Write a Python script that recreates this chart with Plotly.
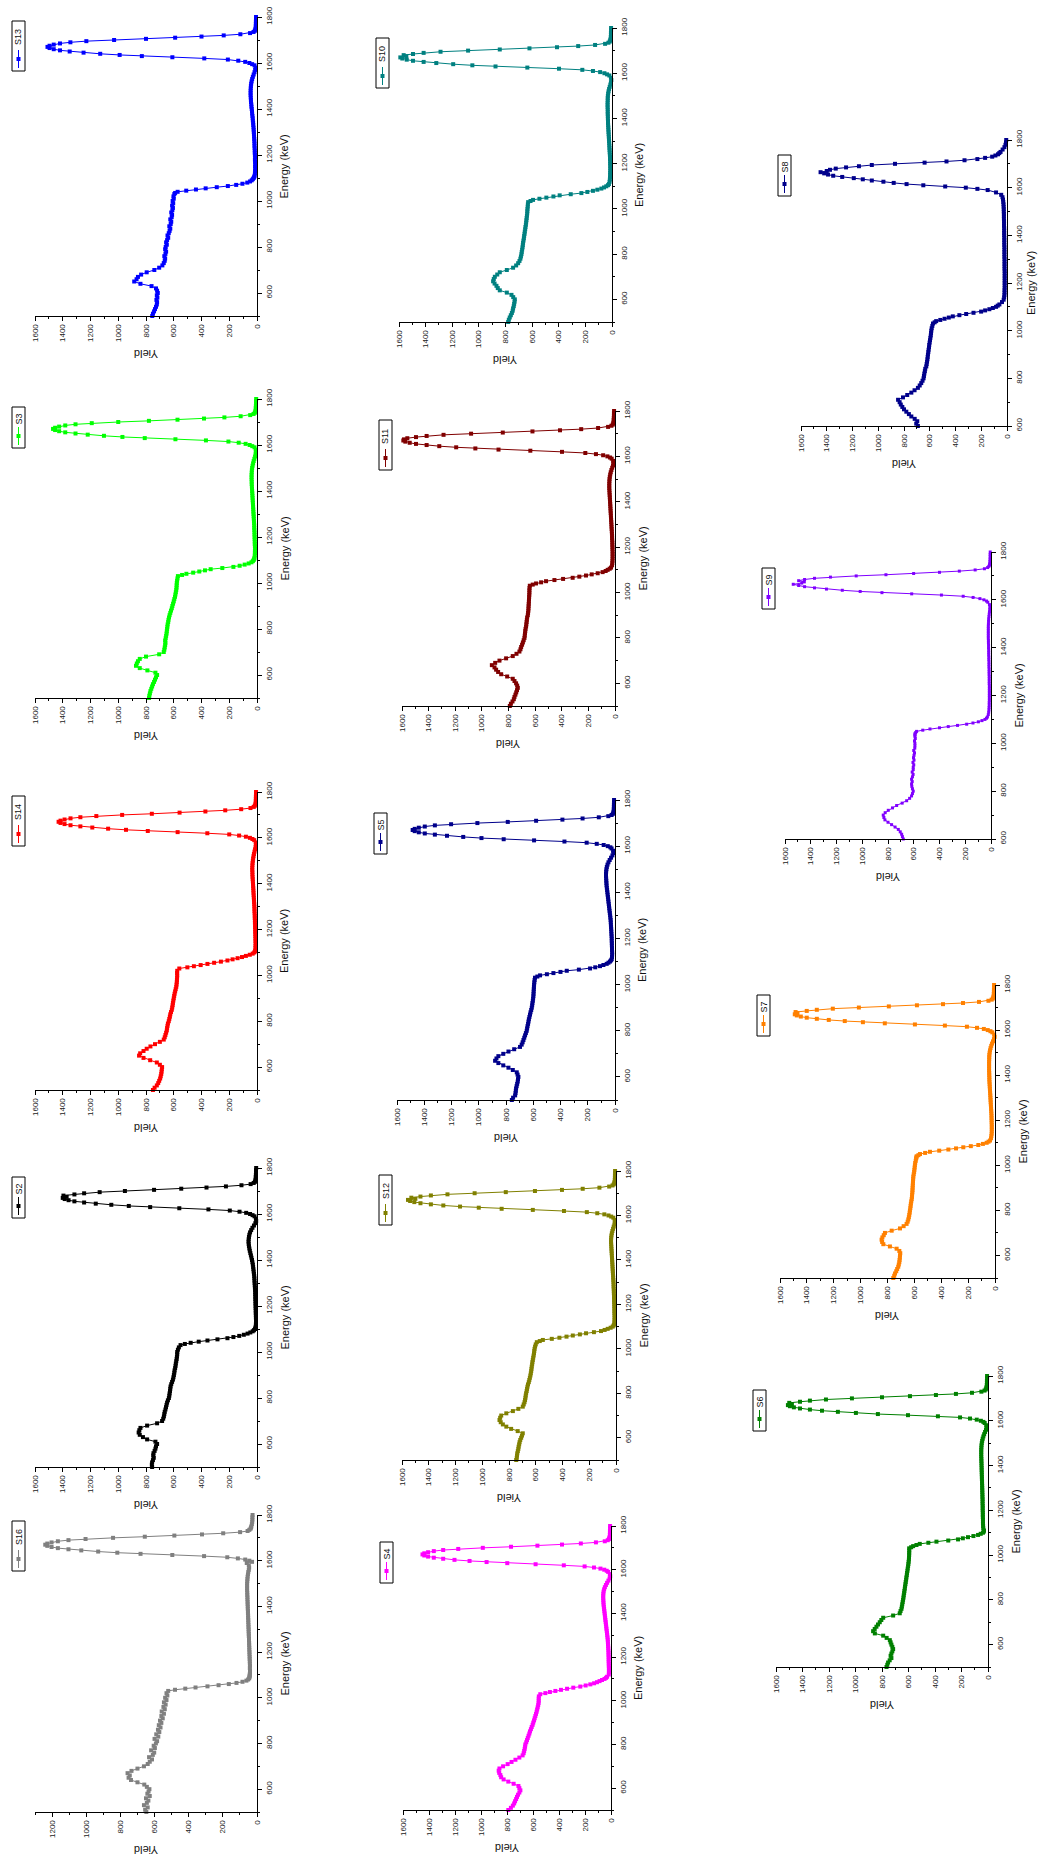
import plotly.graph_objects as go

W, H = 1040, 1860
FONT = "Liberation Sans, Arial, Helvetica, sans-serif"

# ---------------- energy grid (keV) ----------------
E_LO = [500, 510, 520, 530, 540, 550, 560, 570, 580, 590, 600, 610, 620, 630, 640, 650, 660, 670, 680, 690,
        700, 710, 720, 730, 740, 750, 760, 770, 780, 790, 800, 810, 820, 830, 840, 850, 860, 870, 880, 890,
        900, 910, 920, 930, 940, 950, 960, 970, 980, 990, 1000, 1010, 1020, 1030]
E_EDGE = [1035, 1040, 1045, 1050, 1055, 1060, 1065, 1070, 1075, 1080, 1085, 1090, 1095, 1100, 1105, 1110]
E_FLAT = [1120, 1130, 1140, 1150, 1160, 1170, 1180, 1190, 1200, 1210, 1220, 1230, 1240, 1250, 1260, 1270,
          1280, 1290, 1300, 1310, 1320, 1330, 1340, 1350, 1360, 1370, 1380, 1390, 1400, 1410, 1420, 1430,
          1440, 1450, 1460, 1470, 1480, 1490, 1500, 1510, 1520, 1530, 1540, 1550, 1560, 1570, 1580, 1590]
E_PEAK = [1595, 1600, 1605, 1610, 1615, 1620, 1625, 1630, 1635, 1640, 1645, 1650, 1655, 1660, 1665, 1670,
          1675, 1680, 1685, 1690, 1695, 1700, 1705, 1710, 1715, 1720, 1725, 1730, 1735, 1740, 1745, 1750]
E_TAIL = [1760, 1770, 1780, 1790, 1800]
energy = E_LO + E_EDGE + E_FLAT + E_PEAK + E_TAIL

# ---------------- yields ----------------
s13 = [755,750,742,735,728,722,720,725,718,722, 715,720,728,760,840,885,868,858,835,795,
       740,705,682,672,665,662,668,660,655,662, 658,650,655,648,640,645,636,630,625,632,
       622,618,625,615,612,618,610,606,612,604, 608,600,602,596,
       590,572,510,440,370,290,210,150,105,70,50,38,30,24,20,17,
       15,14,13,14,13,14,15,14,15,16, 16,17,18,18,19,20,21,22,23,24, 25,27,28,30,31,33,35,36,38,40,
       41,43,44,45,46,46,46,45,44,42, 39,35,30,24,18,13,11,18,
       35,55,85,135,210,380,610,830,990,1130, 1250,1350,1420,1465,1495,1510,1495,1465,1420,1345,
       1230,1030,800,590,400,240,120,50,25,16, 12,10,
       9,8,8,7,7]
s3 = [778,776,772,768,762,756,750,742,735,728, 720,732,790,845,872,866,858,845,800,705,
      672,668,665,662,660,662,658,655,652,650, 648,646,644,640,638,634,630,625,620,614,
      610,605,600,596,591,588,585,582,580,579, 578,576,573,570,
      540,509,460,416,375,334,250,170,125,89,60,40,30,24,20,18,
      16,15,15,14,15,16,16,17,17,18, 18,19,20,20,21,22,23,24,25,26, 27,28,29,30,31,32,33,34,35,36,
      37,38,38,39,39,39,38,37,35,32, 28,24,19,14,10,8,9,18,
      34,53,82,132,206,368,588,809,970,1103, 1220,1308,1382,1426,1455,1470,1455,1426,1382,1308,
      1191,1000,779,573,382,235,118,49,25,16, 12,10,
      9,8,7,7,6]
s14 = [750,738,722,712,705,698,694,690,688,686, 684,700,722,770,818,850,842,818,795,768,
       735,700,672,665,660,655,650,648,645,642, 636,632,628,625,620,614,611,608,606,603,
       600,597,594,590,586,582,580,578,577,576, 575,576,575,560,
       502,455,406,357,309,260,213,176,140,108,80,52,31,20,14,12,
       11,11,10,11,11,12,12,13,13,14, 14,15,15,16,16,17,18,18,19,20, 21,22,23,24,25,26,27,28,29,30,
       31,32,33,33,34,34,33,32,30,28, 25,22,18,14,10,8,9,20,
       33,51,80,129,200,358,572,787,944,1073, 1187,1273,1344,1387,1416,1430,1416,1387,1344,1273,
       1158,972,758,558,372,229,114,47,24,16, 11,10,
       9,8,8,7,7]
s2 = [756,758,756,750,744,748,746,738,732,728, 720,732,792,822,845,853,848,840,792,720,
      684,676,671,668,665,660,656,652,648,642, 635,632,630,627,625,623,618,612,606,602,
      599,596,594,590,587,585,582,579,577,575, 575,570,563,551,
      520,478,420,357,285,213,170,128,95,68,48,31,22,14,11,9,
      8,7,7,8,8,9,9,10,10,11, 11,12,12,13,13,14,15,16,17,18, 19,20,22,24,26,28,30,33,36,40,
      44,48,52,55,58,60,61,60,58,55, 50,42,33,22,12,6,8,18,
      32,50,78,126,196,350,560,770,924,1050, 1162,1246,1316,1358,1386,1400,1372,1395,1316,1246,
      1134,952,742,546,364,224,112,46,24,15, 11,10,
      9,8,7,7,6]
s16 = [648,655,640,662,645,636,650,628,642,635, 630,645,660,700,738,752,745,758,735,700,
       662,640,628,615,632,610,602,620,598,605, 592,585,600,578,590,572,580,565,575,560,
       568,552,560,545,558,540,548,535,545,530, 538,525,530,520,
       480,420,360,290,225,165,120,85,62,52,46,44,43,42,42,41,
       41,42,41,42,42,43,43,44,44,45, 45,46,46,47,47,48,48,49,49,50, 50,51,51,52,52,53,53,54,54,55,
       55,56,56,57,57,58,58,58,58,57, 56,55,53,51,48,46,48,60,
       29,45,69,112,174,310,496,682,818,930, 1029,1104,1166,1203,1228,1240,1228,1203,1166,1104,
       1004,843,657,484,322,198,99,55,45,38, 35,33,
       30,28,27,27,26]
s10 = [780,775,768,760,752,746,743,738,735,732, 730,742,755,790,843,858,868,882,893,888,
       880,862,843,790,743,720,705,695,688,684, 680,678,675,672,670,668,665,662,660,657,
       655,652,650,647,645,643,641,639,637,636, 635,633,632,630,
       612,593,545,493,440,393,310,230,185,143,110,80,60,43,30,23,
       18,16,15,14,14,13,13,13,14,14, 15,15,16,17,18,19,20,21,22,23, 24,25,26,27,28,29,30,30,31,31,
       32,32,32,33,33,33,32,32,31,29, 26,22,17,12,8,5,8,20,
       37,57,89,143,223,398,636,875,1049,1193, 1320,1415,1495,1542,1575,1590,1545,1565,1495,1415,
       1288,1081,843,620,413,254,127,52,27,17, 13,11,
       9,8,8,7,7]
s11 = [790,782,770,760,755,748,742,736,730,735, 743,755,768,810,855,878,893,905,925,900,
       868,818,768,740,718,710,705,698,692,686, 680,678,676,674,672,668,666,664,662,660,
       655,653,651,650,649,648,647,646,645,644, 643,643,642,640,
       618,593,555,518,455,390,318,268,218,175,130,93,70,55,40,30,
       22,20,19,18,18,18,18,19,19,20, 20,21,22,22,23,24,25,26,27,28, 29,30,31,32,33,34,35,36,37,38,
       39,40,41,42,43,43,43,42,41,39, 36,32,27,21,15,12,14,25,
       37,57,89,143,223,398,636,875,1049,1193, 1320,1415,1495,1542,1575,1590,1585,1560,1495,1415,
       1288,1081,843,620,413,254,127,52,27,17, 13,11,
       10,9,8,8,7]
s5 = [757,748,733,730,728,726,722,718,714,712, 709,715,721,750,782,820,856,880,870,856,
      820,782,740,697,685,678,672,666,660,654, 648,645,642,638,635,632,628,624,620,615,
      611,608,606,603,601,599,598,597,596,595, 594,592,590,587,
      570,550,500,452,400,354,265,183,145,110,85,61,48,37,30,24,
      22,21,21,22,22,23,23,24,24,25, 26,27,28,29,30,31,32,34,36,38, 40,42,44,46,48,50,52,54,56,58,
      60,62,63,64,65,66,66,65,63,60, 55,48,39,29,19,12,14,25,
      34,53,83,134,208,371,594,817,980,1114, 1233,1322,1396,1440,1470,1485,1470,1440,1396,1322,
      1203,1010,787,579,386,238,119,49,25,16, 12,10,
      9,8,8,7,7]
s12 = [746,742,740,738,734,730,728,724,721,716, 709,703,697,735,784,820,846,862,871,866,
       858,820,771,730,697,690,684,680,677,675, 672,668,665,662,658,652,648,644,640,637,
       634,632,630,627,625,622,619,616,613,611, 609,605,600,592,
       570,547,480,423,370,323,270,224,165,112,85,62,40,25,18,14,
       12,11,11,11,12,12,12,13,13,14, 14,15,15,16,16,17,18,18,19,20, 21,22,23,24,25,26,27,28,29,30,
       31,32,33,34,35,36,37,37,36,34, 31,27,22,17,12,8,10,20,
       36,56,87,140,218,389,622,855,1026,1166, 1291,1384,1462,1508,1539,1555,1500,1530,1462,1384,
       1260,1057,824,606,404,249,124,51,26,17, 12,11,
       9,8,8,7,7]
s4 = [790,770,755,745,738,730,723,715,705,697, 705,712,749,790,826,845,851,860,864,858,
      830,795,765,735,705,680,672,668,664,661, 659,652,646,640,634,628,623,616,610,603,
      598,592,587,582,577,572,568,564,560,557, 556,556,555,544,
      505,470,428,385,338,290,236,195,159,130,108,88,69,50,38,30,
      17,16,16,16,17,17,18,18,18,19, 19,20,21,22,23,24,25,27,29,31, 33,35,37,39,41,43,45,47,49,51,
      53,55,57,58,59,60,60,59,57,53, 47,39,30,20,11,6,9,22,
      33,52,81,131,203,363,580,798,957,1088, 1204,1291,1363,1407,1436,1450,1436,1407,1363,1291,
      1175,986,769,566,377,232,116,48,25,16, 12,10,
      9,8,8,7,7]
# S8 and S9 start at 600 keV
s8 = [692,705,697,717,743,762,782,800,813,825, 834,846,808,775,743,718,692,678,666,656,
      648,645,642,638,635,627,624,621,618,616, 614,611,609,606,604,601,598,595,592,590,
      588,585,580,575,
      562,550,518,485,452,421,370,317,260,201,170,137,110,85,72,59,
      39,26,22,20,19,19,18,18,18,18, 18,18,18,18,19,19,19,19,19,20, 20,20,20,20,21,21,21,21,22,22,
      22,22,23,23,23,24,24,24,25,25, 26,27,29,31,35,45,85,150,
      230,320,480,650,780,880,960,1050,1120,1190, 1280,1350,1390,1420,1448,1400,1375,1330,1250,1150,
      1050,870,640,470,330,230,170,115,90,70, 60,50,
      34,20,12,8,6]
s9 = [681,688,694,705,720,745,772,800,824,832, 837,822,798,765,733,690,655,632,617,610,
      604,610,615,617,612,617,610,605,612,604, 604,600,606,598,602,598,594,600,592,591,
      591,594,588,591,
      590,591,585,578,530,474,400,332,260,189,140,98,70,47,35,28,
      21,18,16,15,14,14,13,13,13,13, 13,13,13,14,14,14,14,15,15,15, 16,16,16,17,17,18,18,18,19,19,
      20,20,21,21,21,21,21,21,20,19, 18,16,14,12,10,9,12,25,
      35,55,86,139,216,385,616,847,1016,1155, 1278,1371,1448,1494,1536,1470,1450,1494,1448,1371,
      1247,1047,816,601,400,246,123,51,26,17, 12,11,
      9,8,7,7,6]
s7 = [757,750,744,735,728,720,716,712,710,708, 707,705,712,732,782,831,840,844,838,828,
      819,769,707,680,658,650,645,641,638,635, 633,630,628,626,623,620,618,617,615,614,
      613,612,611,610,609,608,605,602,600,598, 596,594,590,587,
      585,583,570,558,520,484,415,347,290,236,180,124,90,62,48,37,
      30,27,25,24,24,24,24,25,25,26, 26,27,28,29,30,31,32,33,34,35, 36,37,38,39,40,41,42,42,43,43,
      44,44,44,44,44,43,43,42,40,37, 33,28,22,15,8,3,6,20,
      34,54,83,134,209,373,596,820,983,1118, 1237,1326,1401,1445,1475,1490,1470,1484,1401,1326,
      1207,1013,790,581,387,238,119,49,25,16, 12,10,
      9,8,8,7,7]
s6 = [766,760,754,742,729,735,729,722,716,722, 729,735,741,765,791,854,867,855,842,830,
      817,805,791,716,666,660,653,650,647,644, 641,638,636,633,631,628,626,623,621,618,
      616,613,611,608,606,603,601,599,597,596, 595,595,594,595,
      580,565,540,515,450,389,300,226,190,151,110,75,55,38,32,30,
      36,37,38,38,38,39,39,39,40,40, 40,41,41,41,42,42,43,43,44,44, 45,45,46,46,47,47,48,48,49,49,
      50,50,51,51,51,51,50,49,47,44, 40,35,29,22,15,11,13,25,
      35,54,85,136,211,378,604,831,997,1133, 1253,1344,1419,1465,1495,1510,1480,1500,1419,1344,
      1223,1027,800,589,393,242,121,50,26,17, 12,11,
      9,8,8,7,7]

# name, data, colour, yield-axis max, energy-axis min, marker size
SERIES = [
    ("S13", s13, "#0000FF", 1600, 500, 4),
    ("S3", s3, "#00FF00", 1600, 500, 4),
    ("S14", s14, "#FF0000", 1600, 500, 4),
    ("S2", s2, "#000000", 1600, 500, 4),
    ("S16", s16, "#808080", 1300, 500, 4),
    ("S10", s10, "#008080", 1600, 500, 4),
    ("S11", s11, "#800000", 1600, 500, 4),
    ("S5", s5, "#00008B", 1600, 500, 4),
    ("S12", s12, "#808000", 1600, 500, 4),
    ("S4", s4, "#FF00FF", 1600, 500, 4),
    ("S8", s8, "#00008B", 1600, 600, 4),
    ("S9", s9, "#8000FF", 1600, 600, 3),
    ("S7", s7, "#FF8000", 1600, 500, 4),
    ("S6", s6, "#008000", 1600, 500, 4),
]

# panel boxes in pixels: x of max-yield end, x of zero-yield end, y of top (1800 keV), y of bottom, legend top
BOXES = {
    "S13": (35, 257, 17, 316, 21),
    "S3": (35, 257, 399, 698, 407),
    "S14": (35, 257, 792, 1090, 796),
    "S2": (35, 257, 1168, 1467, 1177),
    "S16": (35, 257, 1515, 1812, 1521),
    "S10": (399, 612, 28, 322, 38),
    "S11": (402, 615, 411, 706, 420),
    "S5": (397, 615, 800, 1100, 813),
    "S12": (402, 616, 1171, 1460, 1175),
    "S4": (403, 611, 1526, 1810, 1542),
    "S8": (801, 1007, 140, 426, 155),
    "S9": (785, 991, 552, 839, 568),
    "S7": (780, 995, 985, 1278, 995),
    "S6": (776, 988, 1376, 1667, 1390),
}

def px(x):
    return x / W

def py(y):
    return 1 - y / H

fig = go.Figure()
layout = dict(
    width=W, height=H, template="none",
    margin=dict(l=0, r=0, t=0, b=0),
    paper_bgcolor="white", plot_bgcolor="white",
    font=dict(family=FONT, color="#111"),
    showlegend=False,
)
shapes, annotations = [], []

for i, (name, ys, color, ymax, emin, msize) in enumerate(SERIES, start=1):
    xs = energy[len(energy) - len(ys):]
    if name not in ("S8", "S9") and len(ys) != len(energy):
        raise ValueError(f"{name}: {len(ys)} values, expected {len(energy)}")
    if name in ("S8", "S9") and len(ys) != len(energy) - 10:
        raise ValueError(f"{name}: {len(ys)} values, expected {len(energy)-10}")
    xl, xr, yt, yb, lt = BOXES[name]
    sx = "" if i == 1 else str(i)
    fig.add_trace(go.Scatter(
        x=ys, y=xs, mode="lines+markers", name=name,
        line=dict(color=color, width=1),
        marker=dict(symbol="square", size=msize, color=color, line=dict(width=0)),
        xaxis="x" + sx, yaxis="y" + sx, cliponaxis=False, hoverinfo="skip",
    ))
    tickfont = dict(family=FONT, size=8, color="#222")
    layout["xaxis" + sx] = dict(
        domain=[px(xl), px(xr)], range=[ymax, 0], anchor="y" + sx,
        showline=True, linecolor="black", linewidth=1, mirror=False,
        ticks="outside", ticklen=4, tickwidth=1, tickcolor="black",
        tick0=0, dtick=200, tickangle=-90, tickfont=tickfont,
        minor=dict(ticks="outside", dtick=100, ticklen=2, tickcolor="black", tickwidth=1),
        showgrid=False, zeroline=False, automargin=False, fixedrange=True,
    )
    layout["yaxis" + sx] = dict(
        domain=[py(yb), py(yt)], range=[emin, 1800], anchor="x" + sx, side="right",
        showline=True, linecolor="black", linewidth=1, mirror=False,
        ticks="outside", ticklen=4, tickwidth=1, tickcolor="black",
        tick0=0, dtick=200, tickangle=-90, tickfont=tickfont,
        minor=dict(ticks="outside", dtick=100, ticklen=2, tickcolor="black", tickwidth=1),
        showgrid=False, zeroline=False, automargin=False, fixedrange=True,
    )
    # rotated "Energy (keV)" title to the right of the energy axis
    annotations.append(dict(
        x=px(min(xr + 27, 1031)), y=py((yt + yb) / 2), xref="paper", yref="paper",
        text="Energy (keV)", textangle=-90, showarrow=False,
        font=dict(family=FONT, size=11, color="#111"), xanchor="center", yanchor="middle",
    ))
    # upside-down "Yield" title under the yield axis
    annotations.append(dict(
        x=px((xl + xr) / 2), y=py(yb + 38), xref="paper", yref="paper",
        text="Yield", textangle=180, showarrow=False,
        font=dict(family=FONT, size=11, color="#111"), xanchor="center", yanchor="middle",
    ))
    # legend box (rotated)
    h = 23 + 9 * len(name)
    bx1 = xl - 10
    bx0 = bx1 - 13
    cx = (bx0 + bx1) / 2
    shapes.append(dict(type="rect", xref="paper", yref="paper",
                       x0=px(bx0), x1=px(bx1), y0=py(lt + h), y1=py(lt),
                       line=dict(color="black", width=1), fillcolor="white", layer="above"))
    shapes.append(dict(type="line", xref="paper", yref="paper",
                       x0=px(cx), x1=px(cx), y0=py(lt + h - 3), y1=py(lt + h - 21),
                       line=dict(color=color, width=1), layer="above"))
    my = lt + h - 12
    shapes.append(dict(type="rect", xref="paper", yref="paper",
                       x0=px(cx - 2), x1=px(cx + 2), y0=py(my + 2), y1=py(my - 2),
                       line=dict(color=color, width=0), fillcolor=color, layer="above"))
    annotations.append(dict(
        x=px(cx), y=py(lt + (h - 21) / 2 + 2), xref="paper", yref="paper",
        text=name, textangle=-90, showarrow=False,
        font=dict(family=FONT, size=9, color="#111"), xanchor="center", yanchor="middle",
    ))

layout["shapes"] = shapes
layout["annotations"] = annotations
fig.update_layout(**layout)
fig.write_html(
    "out.html",
    config={"displayModeBar": False},
    post_script="document.body.style.margin='0';document.body.style.overflow='hidden';"
                "document.documentElement.style.overflow='hidden';",
)
